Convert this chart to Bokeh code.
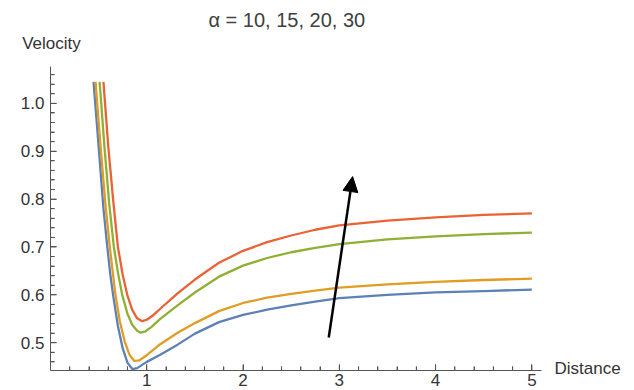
from bokeh.plotting import figure
from bokeh.models import (FixedTicker, PrintfTickFormatter, Arrow,
                          NormalHead, Range1d, LinearAxis)
from bokeh.embed import file_html
from bokeh.resources import INLINE

# ---- data ----
alphas = [10, 15, 20, 30]

x_a10 = [0.447, 0.50, 0.55, 0.59, 0.62, 0.65, 0.70, 0.75, 0.80, 0.85, 0.90, 1.00, 1.14, 1.32, 1.50, 1.75, 2.0, 2.25, 2.5, 2.75, 3.0, 3.5, 4.0, 4.5, 5.0]
y_a10 = [1.045, 0.91, 0.78, 0.70, 0.645, 0.60, 0.535, 0.488, 0.458, 0.445, 0.447, 0.460, 0.475, 0.496, 0.519, 0.543, 0.558, 0.569, 0.578, 0.586, 0.593, 0.600, 0.605, 0.608, 0.611]

x_a15 = [0.468, 0.52, 0.57, 0.616, 0.645, 0.675, 0.72, 0.77, 0.82, 0.87, 0.92, 1.00, 1.14, 1.32, 1.50, 1.75, 2.0, 2.25, 2.5, 2.75, 3.0, 3.5, 4.0, 4.5, 5.0]
y_a15 = [1.045, 0.91, 0.79, 0.70, 0.65, 0.60, 0.545, 0.503, 0.475, 0.462, 0.463, 0.474, 0.497, 0.521, 0.541, 0.566, 0.583, 0.594, 0.602, 0.609, 0.615, 0.622, 0.627, 0.631, 0.634]

x_a20 = [0.51, 0.56, 0.61, 0.658, 0.70, 0.745, 0.80, 0.85, 0.90, 0.935, 0.98, 1.05, 1.14, 1.32, 1.50, 1.75, 2.0, 2.25, 2.5, 2.75, 3.0, 3.5, 4.0, 4.5, 5.0]
y_a20 = [1.045, 0.91, 0.79, 0.70, 0.647, 0.60, 0.56, 0.537, 0.525, 0.521, 0.523, 0.533, 0.550, 0.578, 0.605, 0.638, 0.661, 0.677, 0.689, 0.698, 0.706, 0.716, 0.722, 0.727, 0.730]

x_a30 = [0.55, 0.60, 0.65, 0.70, 0.75, 0.797, 0.85, 0.90, 0.952, 1.0, 1.07, 1.14, 1.32, 1.50, 1.75, 2.0, 2.25, 2.5, 2.75, 3.0, 3.5, 4.0, 4.5, 5.0]
y_a30 = [1.045, 0.91, 0.80, 0.70, 0.642, 0.60, 0.568, 0.551, 0.545, 0.548, 0.558, 0.571, 0.603, 0.632, 0.667, 0.692, 0.710, 0.724, 0.736, 0.745, 0.755, 0.762, 0.767, 0.770]

x_major = [0, 1, 2, 3, 4, 5]
x_minor = [0.2, 0.4, 0.6, 0.8, 1.2, 1.4, 1.6, 1.8, 2.2, 2.4, 2.6, 2.8,
           3.2, 3.4, 3.6, 3.8, 4.2, 4.4, 4.6, 4.8, 5.0 + 0.0]
x_minor = [v for v in x_minor if v not in x_major]
y_major = [0.5, 0.6, 0.7, 0.8, 0.9, 1.0]
y_minor = [0.44, 0.46, 0.48, 0.52, 0.54, 0.56, 0.58, 0.62, 0.64, 0.66, 0.68,
           0.72, 0.74, 0.76, 0.78, 0.82, 0.84, 0.86, 0.88, 0.92, 0.94, 0.96, 0.98,
           1.02, 1.04, 1.06]

arrow_start = (2.89, 0.511)
arrow_end = (3.138, 0.847)

title_text = "α = 10, 15, 20, 30"
x_label = "Distance"
y_label = "Velocity"
x_label_at = 0.446   # y position of the "Distance" text, next to the x axis end
y_label_at = 0.01    # x position of the "Velocity" text, above the y axis

colors = ["#5E81B5", "#E19C24", "#8FB032", "#EB6235"]

FONT = "Liberation Sans"
AXC = "#555555"
TXT = "#333333"

X0, X1 = 0.0, 5.1
Y0, Y1 = 0.442, 1.077
FW, FH = 491, 304

p = figure(frame_width=FW, frame_height=FH,
           min_border_left=50, min_border_right=80, min_border_top=66, min_border_bottom=20,
           x_range=Range1d(X0, X1), y_range=Range1d(Y0, Y1),
           output_backend="svg", toolbar_location=None)
p.outline_line_color = None
p.grid.visible = False
p.background_fill_color = None
p.border_fill_color = "white"

series = [(x_a10, y_a10), (x_a15, y_a15), (x_a20, y_a20), (x_a30, y_a30)]
for (xs, ys), c in zip(series, colors):
    p.line(xs, ys, line_color=c, line_width=2.3)

# inward-pointing ticks (Mathematica style), drawn in data space from the tick lists
dx = (X1 - X0) / FW   # data units per pixel, x
dy = (Y1 - Y0) / FH   # data units per pixel, y
p.segment(x0=x_major, x1=x_major, y0=[Y0] * len(x_major), y1=[Y0 + 6 * dy] * len(x_major),
          line_color=AXC, line_width=1)
p.segment(x0=x_minor, x1=x_minor, y0=[Y0] * len(x_minor), y1=[Y0 + 4 * dy] * len(x_minor),
          line_color=AXC, line_width=1)
p.segment(x0=[X0] * len(y_major), x1=[X0 + 6 * dx] * len(y_major), y0=y_major, y1=y_major,
          line_color=AXC, line_width=1)
p.segment(x0=[X0] * len(y_minor), x1=[X0 + 4 * dx] * len(y_minor), y0=y_minor, y1=y_minor,
          line_color=AXC, line_width=1)

p.xaxis.ticker = FixedTicker(ticks=[t for t in x_major if t != 0], minor_ticks=x_minor)
p.yaxis.ticker = FixedTicker(ticks=y_major, minor_ticks=y_minor)
p.xaxis.formatter = PrintfTickFormatter(format="%d")
p.yaxis.formatter = PrintfTickFormatter(format="%.1f")

for ax in (p.xaxis[0], p.yaxis[0]):
    ax.axis_line_color = AXC
    ax.axis_line_width = 1
    ax.major_tick_line_color = AXC
    ax.minor_tick_line_color = AXC
    ax.major_tick_in = 6
    ax.major_tick_out = 0
    ax.minor_tick_in = 4
    ax.minor_tick_out = 0
    ax.major_label_text_font = FONT
    ax.major_label_text_font_size = "17px"
    ax.major_label_text_color = TXT
p.xaxis.major_label_standoff = 3
p.yaxis.major_label_standoff = 6

common = dict(axis_line_color=None, major_tick_line_color=None, minor_tick_line_color=None,
              major_tick_in=0, major_tick_out=0, minor_tick_in=0, minor_tick_out=0,
              major_label_text_font=FONT, major_label_text_font_size="17px",
              major_label_text_color=TXT)

# "Distance" as a lone label on a bare right-hand axis
rax = LinearAxis(ticker=FixedTicker(ticks=[x_label_at]), major_label_overrides={x_label_at: x_label},
                 major_label_standoff=13, **common)
p.add_layout(rax, "right")

# "Velocity" as a lone label on a bare top axis
tax = LinearAxis(ticker=FixedTicker(ticks=[y_label_at]), major_label_overrides={y_label_at: y_label},
                 major_label_standoff=14, **common)
p.add_layout(tax, "above")

p.title.text = title_text
p.title.align = "left"
p.title.offset = 158
p.title.vertical_align = "bottom"
p.title.text_font = FONT
p.title.text_font_size = "20px"
p.title.text_font_style = "normal"
p.title.text_color = "#404040"
p.title.standoff = 0

p.add_layout(Arrow(end=NormalHead(size=15, fill_color="black", line_color="black"),
                   x_start=arrow_start[0], y_start=arrow_start[1],
                   x_end=arrow_end[0], y_end=arrow_end[1],
                   line_color="black", line_width=2.5))

open("out.html", "w").write(file_html(p, INLINE))
